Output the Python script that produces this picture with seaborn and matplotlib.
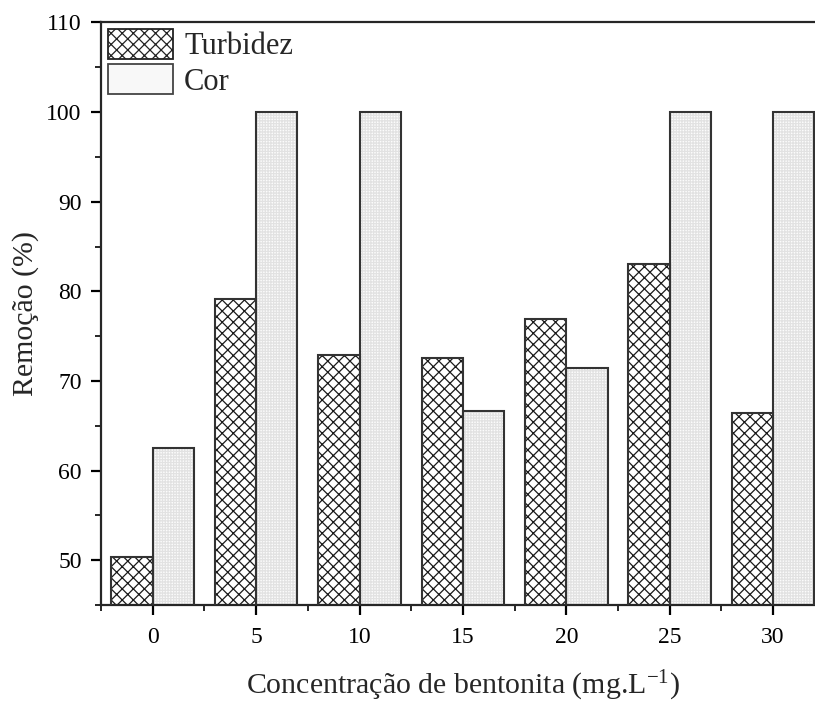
import numpy as np
import pandas as pd
import seaborn as sns
import matplotlib.pyplot as plt
from matplotlib.patches import Rectangle
from matplotlib.ticker import MultipleLocator

concentracao = [0, 5, 10, 15, 20, 25, 30]
turbidez = [50.4, 79.2, 72.9, 72.6, 76.9, 83.1, 66.4]
cor = [62.5, 100.0, 100.0, 66.7, 71.4, 100.0, 100.0]
series = ["Turbidez", "Cor"]

df = pd.DataFrame({
    "conc": concentracao * 2,
    "valor": turbidez + cor,
    "serie": [series[0]] * len(turbidez) + [series[1]] * len(cor),
})

sns.set_style("ticks")
plt.rcParams["font.family"] = ["Liberation Serif", "DejaVu Serif"]
plt.rcParams["mathtext.fontset"] = "custom"
plt.rcParams["mathtext.rm"] = "Liberation Serif"
plt.rcParams["mathtext.it"] = "Liberation Serif:italic"
plt.rcParams["hatch.linewidth"] = 0.9

fig = plt.figure(figsize=(8.15, 7.02), dpi=100)
ax = fig.add_axes([0.124, 0.138, 0.888, 0.83])

sns.barplot(data=df, x="conc", y="valor", hue="serie", native_scale=True,
            palette=["white", "white"], width=0.8, ax=ax, legend=False)

# hatch fill first, then a dark outline on top
n = len(concentracao)
bars = [p for p in ax.patches if isinstance(p, Rectangle)][:2 * n]
for i, p in enumerate(bars):
    if i < n:
        p.set_hatch("xxx")
        p.set_edgecolor("#1a1a1a")
        p.set_facecolor("white")
    else:
        p.set_hatch("++++++")
        p.set_edgecolor("#e2e2e2")
        p.set_facecolor("#fcfcfc")
    p.set_linewidth(0)
    ax.add_patch(Rectangle(p.get_xy(), p.get_width(), p.get_height(),
                           fill=False, edgecolor="#333333", linewidth=1.5, zorder=3))

h1 = Rectangle((0, 0), 1, 1, facecolor="white", edgecolor="#222222", hatch="xxx", linewidth=1.3)
h2 = Rectangle((0, 0), 1, 1, facecolor="#f8f8f8", edgecolor="#444444", hatch="", linewidth=1.3)
ax.legend([h1, h2], series, loc="upper left", frameon=False, fontsize=22,
          handlelength=2.15, handleheight=1.12, labelspacing=0.1,
          handletextpad=0.35, borderaxespad=0.1, borderpad=0.12)

ax.set_xlim(-2.5, 32.5)
ax.set_ylim(45, 110)
ax.set_xticks(concentracao)
ax.set_xticklabels([str(c) for c in concentracao])
ax.xaxis.set_minor_locator(MultipleLocator(2.5))
ax.set_yticks(range(50, 111, 10))
ax.yaxis.set_minor_locator(MultipleLocator(5))

for s in ["left", "bottom", "top"]:
    ax.spines[s].set_linewidth(1.6)
ax.spines["right"].set_visible(False)
ax.tick_params(axis="both", which="major", direction="out", length=7, width=1.6,
               labelsize=17, colors="black")
ax.tick_params(axis="both", which="minor", direction="out", length=4, width=1.4)
ax.tick_params(top=False, right=False, which="both")
ax.tick_params(axis="x", pad=9)
ax.tick_params(axis="y", pad=7)

ax.set_xlabel("Concentração de bentonita (mg.L$^{-1}$)", fontsize=21.5, labelpad=15)
ax.set_ylabel("Remoção (%)", fontsize=21.5, labelpad=5)

fig.savefig("out.png", dpi=100)
